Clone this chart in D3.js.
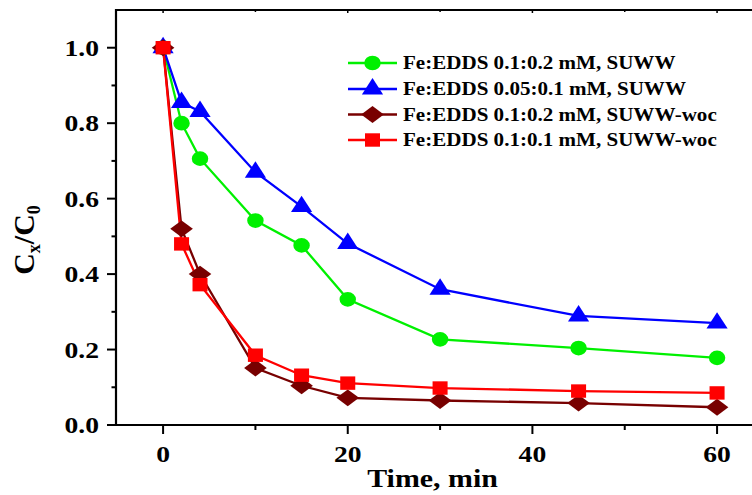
<!DOCTYPE html>
<html><head><meta charset="utf-8">
<script src="https://cdn.jsdelivr.net/npm/d3@7"></script>
<style>body{margin:0;background:#fff}svg{display:block}</style>
</head><body>
<svg id="c" width="752" height="495"></svg>
<script>
const times = [0, 2, 4, 10, 15, 20, 30, 45, 60];
const greenVals = [1.0, 0.80, 0.706, 0.542, 0.476, 0.333, 0.227, 0.204, 0.178];
const blueVals = [1.0, 0.855, 0.831, 0.670, 0.579, 0.481, 0.360, 0.289, 0.270];
const darkRedVals = [1.0, 0.520, 0.400, 0.151, 0.104, 0.072, 0.065, 0.058, 0.047];
const redVals = [1.0, 0.480, 0.372, 0.185, 0.132, 0.111, 0.098, 0.090, 0.085];
const seriesNames = ["Fe:EDDS 0.1:0.2 mM, SUWW", "Fe:EDDS 0.05:0.1 mM, SUWW", "Fe:EDDS 0.1:0.2 mM, SUWW-woc", "Fe:EDDS 0.1:0.1 mM, SUWW-woc"];
const xTicks = [0, 20, 40, 60];
const xMinorTicks = [10, 30, 50];
const yTicks = [0.0, 0.2, 0.4, 0.6, 0.8, 1.0];
const yMinorTicks = [0.1, 0.3, 0.5, 0.7, 0.9];

// wide diamond symbol type (width slightly larger than height)
const wideDiamond = {
  draw(ctx, size) {
    const h = Math.sqrt(size / 2.4);
    const w = h * 1.2;
    ctx.moveTo(0, -h); ctx.lineTo(w, 0); ctx.lineTo(0, h); ctx.lineTo(-w, 0); ctx.closePath();
  }
};

const series = [
  {name: seriesNames[0], vals: greenVals, color: "#00f000", symbol: d3.symbolCircle, size: 170},
  {name: seriesNames[1], vals: blueVals, color: "#0000ff", symbol: d3.symbolTriangle, size: 155},
  {name: seriesNames[2], vals: darkRedVals, color: "#780000", symbol: wideDiamond, size: 170},
  {name: seriesNames[3], vals: redVals, color: "#ff0000", symbol: d3.symbolSquare, size: 180}
];

const svg = d3.select("#c");
const L = 116, T = 10, B = 425;
const x = d3.scaleLinear().domain([-5.1, 65]).range([L, L + 70.1 * 9.233]);
const y = d3.scaleLinear().domain([0, 1.1]).range([B, T]);
const font = "'Liberation Serif','Times New Roman',serif";
const SX = 1.15;

// frame
svg.append("line").attr("x1", L).attr("x2", 760).attr("y1", T).attr("y2", T).attr("stroke", "#000").attr("stroke-width", 2.2);
svg.append("line").attr("x1", L).attr("x2", L).attr("y1", T - 1).attr("y2", B + 1).attr("stroke", "#000").attr("stroke-width", 2.2);
svg.append("line").attr("x1", L - 1).attr("x2", 760).attr("y1", B).attr("y2", B).attr("stroke", "#000").attr("stroke-width", 2.2);

// y axis ticks
yTicks.forEach(v => {
  svg.append("line").attr("x1", L - 9).attr("x2", L).attr("y1", y(v)).attr("y2", y(v)).attr("stroke", "#000").attr("stroke-width", 2);
  svg.append("text").attr("transform", `translate(99,${y(v) + 8}) scale(${SX},1)`)
    .attr("text-anchor", "end").attr("font-family", font).attr("font-weight", "bold").attr("font-size", 24)
    .text(d3.format(".1f")(v));
});
yMinorTicks.forEach(v => {
  svg.append("line").attr("x1", L - 4.5).attr("x2", L).attr("y1", y(v)).attr("y2", y(v)).attr("stroke", "#000").attr("stroke-width", 2);
});
// x axis ticks
xTicks.forEach(v => {
  svg.append("line").attr("x1", x(v)).attr("x2", x(v)).attr("y1", B).attr("y2", B + 9).attr("stroke", "#000").attr("stroke-width", 2);
  svg.append("line").attr("x1", x(v)).attr("x2", x(v)).attr("y1", T).attr("y2", T + 3).attr("stroke", "#000").attr("stroke-width", 1.5);
  svg.append("text").attr("transform", `translate(${x(v)},462) scale(${SX},1)`)
    .attr("text-anchor", "middle").attr("font-family", font).attr("font-weight", "bold").attr("font-size", 24)
    .text(v);
});
xMinorTicks.forEach(v => {
  svg.append("line").attr("x1", x(v)).attr("x2", x(v)).attr("y1", B).attr("y2", B + 5).attr("stroke", "#000").attr("stroke-width", 2);
  svg.append("line").attr("x1", x(v)).attr("x2", x(v)).attr("y1", T).attr("y2", T + 2).attr("stroke", "#000").attr("stroke-width", 1.5);
});

// axis titles
svg.append("text").attr("transform", `translate(${(366 + 499) / 2},487) scale(${SX},1)`)
  .attr("text-anchor", "middle").attr("font-family", font).attr("font-weight", "bold").attr("font-size", 26)
  .text("Time, min");
const yt = svg.append("text").attr("transform", "translate(34,240) rotate(-90)")
  .attr("text-anchor", "middle").attr("font-family", font).attr("font-weight", "bold").attr("font-size", 30);
yt.append("tspan").text("C");
yt.append("tspan").attr("font-size", 18).attr("dy", 6).text("x");
yt.append("tspan").attr("dy", -6).text("/C");
yt.append("tspan").attr("font-size", 18).attr("dy", 6).text("0");

// series
const line = d3.line().x((d, i) => x(times[i])).y(d => y(d));
series.forEach(s => {
  svg.append("path").datum(s.vals).attr("d", line).attr("fill", "none").attr("stroke", s.color).attr("stroke-width", 2.3);
});
series.forEach(s => {
  svg.selectAll(null).data(s.vals).enter().append("path")
    .attr("d", d3.symbol().type(s.symbol).size(s.size))
    .attr("transform", (d, i) => `translate(${x(times[i])},${y(d)}) scale(1.12,1)`)
    .attr("fill", s.color);
});

// legend
const legY = [63, 89, 114.5, 140];
series.forEach((s, i) => {
  const g = svg.append("g").attr("transform", `translate(0,${legY[i]})`);
  g.append("line").attr("x1", 348).attr("x2", 397).attr("y1", 0).attr("y2", 0).attr("stroke", s.color).attr("stroke-width", 2.3);
  g.append("path").attr("d", d3.symbol().type(s.symbol).size(s.size)).attr("transform", "translate(372.5,0) scale(1.12,1)").attr("fill", s.color);
  g.append("text").attr("transform", `translate(403,6) scale(1.17,1)`)
    .attr("font-family", font).attr("font-weight", "bold").attr("font-size", 18).text(s.name);
});
</script>
</body></html>
